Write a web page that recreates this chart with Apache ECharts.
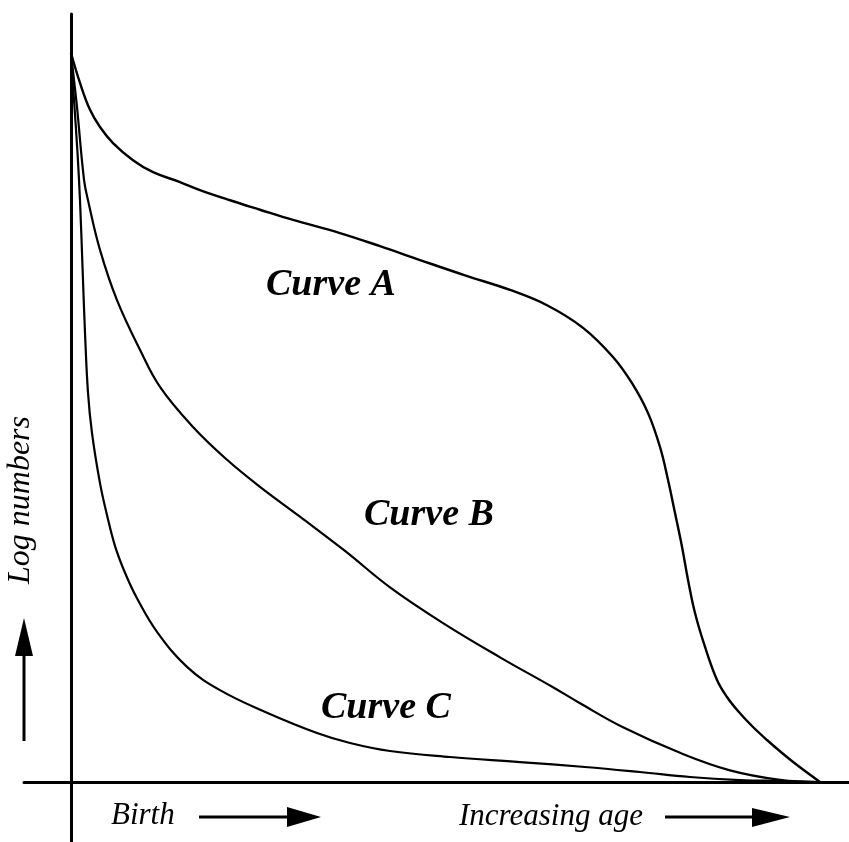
<!DOCTYPE html>
<html>
<head>
<meta charset="utf-8">
<title>Survivorship curves</title>
<script src="https://cdn.jsdelivr.net/npm/echarts@6/dist/echarts.min.js"></script>
<style>
  html, body { margin: 0; padding: 0; background: #fff; }
  #chart { width: 849px; height: 842px; }
</style>
</head>
<body>
<div id="chart"></div>
<script>
// Age as a percentage of the maximum life span; log numbers scaled so the
// starting cohort is 100.
const curveA_age = [0, 1.20, 2.54, 3.87, 5.61, 8.28, 10.95, 14.55, 17.22, 21.23, 25.23, 29.64, 35.91, 41.26, 46.60, 52.60, 58.61, 63.55, 68.36, 72.36, 74.90, 77.04, 78.64, 79.71, 80.64, 81.58, 82.38, 83.31, 84.65, 86.25, 87.58, 89.05, 90.92, 92.92, 94.93, 96.93, 100];
const curveA_log = [100, 95.9, 92.2, 89.85, 87.65, 85.3, 83.65, 82.3, 81.2, 79.8, 78.5, 77.1, 75.3, 73.5, 71.6, 69.5, 67.5, 65.4, 62.3, 58.3, 54.7, 50.6, 45.95, 41.43, 36.90, 32.24, 27.71, 23.18, 18.52, 13.99, 11.66, 9.74, 7.68, 5.76, 3.98, 2.33, 0];

const curveB_age = [0, 0.40, 0.80, 1.74, 2.27, 3.87, 6.14, 9.21, 11.88, 16.29, 20.83, 25.23, 30.57, 36.58, 42.59, 49.67, 57.28, 64.35, 67.96, 73.70, 81.31, 87.98, 94.66, 100];
const curveB_log = [100, 96.3, 92.6, 82.6, 79.8, 73.0, 66.1, 59.3, 54.2, 48.7, 44.2, 40.5, 36.4, 31.7, 26.7, 21.8, 17.1, 13.0, 10.8, 7.5, 4.0, 1.6, 0.3, 0];

const curveC_age = [0, 0.40, 0.87, 1.20, 1.54, 1.87, 2.27, 2.80, 3.87, 4.81, 5.87, 7.21, 8.81, 11.48, 15.49, 19.89, 26.17, 32.84, 37.25, 42.59, 50.60, 59.95, 68.62, 75.97, 82.64, 89.32, 94.66, 100];
const curveC_log = [100, 93.6, 86.3, 79.8, 70.6, 61.6, 53.4, 47.9, 41.0, 36.6, 32.4, 28.7, 25.2, 20.6, 15.8, 12.6, 9.5, 6.72, 5.35, 4.25, 3.43, 2.74, 2.06, 1.37, 0.69, 0.27, 0.14, 0];

const curveNames = ['Curve A', 'Curve B', 'Curve C'];
const axisTexts = { y: 'Log numbers', birth: 'Birth', age: 'Increasing age' };

function pairs(xs, ys) {
  return xs.map((x, i) => [x, ys[i]]);
}

const chart = echarts.init(document.getElementById('chart'), null, { renderer: 'canvas' });

const lineSeries = (name, xs, ys, width) => ({
  name: name,
  type: 'line',
  data: pairs(xs, ys),
  smooth: 0.4,
  showSymbol: false,
  lineStyle: { color: '#000', width: width },
  silent: true
});

const serif = '"Liberation Serif", "DejaVu Serif", serif';

chart.setOption({
  animation: false,
  backgroundColor: '#fff',
  grid: { left: 24, right: 0, top: 14, bottom: 0, containLabel: false },
  xAxis: {
    type: 'value',
    min: -6.275,
    max: 103.87,
    axisLine: { onZero: true, lineStyle: { color: '#000', width: 3 } },
    axisTick: { show: false },
    axisLabel: { show: false },
    splitLine: { show: false }
  },
  yAxis: {
    type: 'value',
    min: -8.23,
    max: 105.35,
    axisLine: { show: true, onZero: true, lineStyle: { color: '#000', width: 3 } },
    axisTick: { show: false },
    axisLabel: { show: false },
    splitLine: { show: false }
  },
  series: [
    lineSeries(curveNames[0], curveA_age, curveA_log, 2.4),
    lineSeries(curveNames[1], curveB_age, curveB_log, 2.2),
    lineSeries(curveNames[2], curveC_age, curveC_log, 2.2)
  ],
  graphic: [
    // curve captions
    { type: 'text', left: 266, top: 266, style: { text: curveNames[0], font: 'italic bold 38px ' + serif, fill: '#000' } },
    { type: 'text', left: 364, top: 496, style: { text: curveNames[1], font: 'italic bold 38px ' + serif, fill: '#000' } },
    { type: 'text', left: 321, top: 689, style: { text: curveNames[2], font: 'italic bold 38px ' + serif, fill: '#000' } },
    // axis captions
    { type: 'text', x: 21, y: 500, rotation: Math.PI / 2,
      style: { text: axisTexts.y, font: 'italic 32px ' + serif, fill: '#000', align: 'center', verticalAlign: 'middle' } },
    { type: 'text', left: 111, top: 800, style: { text: axisTexts.birth, font: 'italic 31px ' + serif, fill: '#000' } },
    { type: 'text', left: 459, top: 801, style: { text: axisTexts.age, font: 'italic 31px ' + serif, fill: '#000' } },
    // arrows
    { type: 'line', shape: { x1: 24, y1: 741, x2: 24, y2: 650 }, style: { stroke: '#000', lineWidth: 3 } },
    { type: 'polygon', shape: { points: [[24, 618], [15, 656], [33, 656]] }, style: { fill: '#000' } },
    { type: 'line', shape: { x1: 199, y1: 817, x2: 292, y2: 817 }, style: { stroke: '#000', lineWidth: 3 } },
    { type: 'polygon', shape: { points: [[321, 817], [287, 807], [287, 827]] }, style: { fill: '#000' } },
    { type: 'line', shape: { x1: 665, y1: 817, x2: 757, y2: 817 }, style: { stroke: '#000', lineWidth: 3 } },
    { type: 'polygon', shape: { points: [[790, 817], [752, 808], [752, 827]] }, style: { fill: '#000' } }
  ]
});
</script>
</body>
</html>
